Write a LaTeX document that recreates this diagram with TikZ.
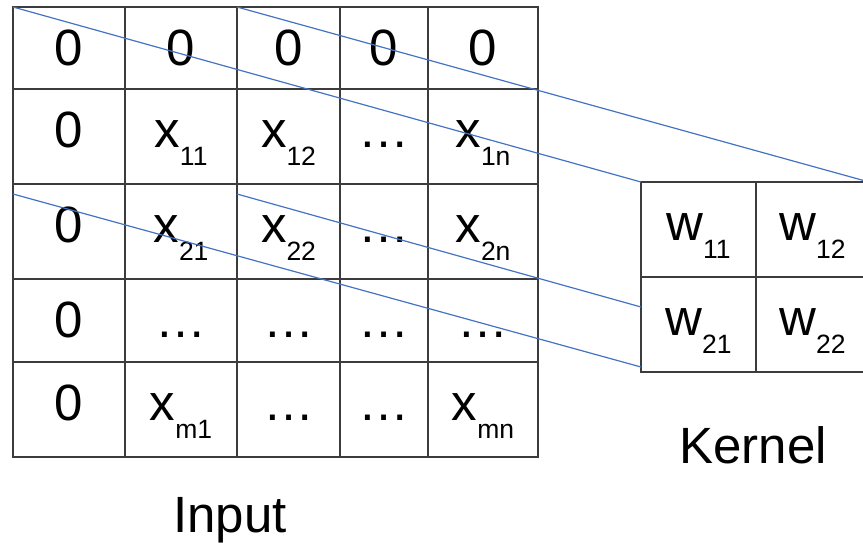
\documentclass[tikz,border=0pt]{standalone}
\usepackage{fontspec}
\setmainfont{Liberation Sans}
\usetikzlibrary{positioning}

\definecolor{gridgray}{RGB}{60,60,60}
\definecolor{linkblue}{RGB}{68,114,196}

% letter with a lowered index, e.g. \sx{x}{11}
\newcommand{\sx}[2]{#1\raisebox{-18pt}{\fontsize{26.5}{26.5}\selectfont #2}}

% cell edges
\def\colx{{13,125,237,340,428,538}}
\def\rowy{{7,89,184,279,362,457}}
\def\kcolx{{641,756,869}}
\def\krowy{{182,277,372}}

\begin{document}
\begin{tikzpicture}[x=1pt, y=-1pt,
		every node/.style={font=\fontsize{51}{51}\selectfont, inner sep=0pt, outer sep=0pt},
		cell/.style={draw=gridgray, line width=1.5pt, anchor=north west, text height=58.5pt},
		link/.style={draw=linkblue, line width=1.2pt}]
	\useasboundingbox (0,0) rectangle (863,542);

	% padded input
	\foreach \r/\entries in {
			1/{0,0,0,0,0},
			2/{0,\sx{x}{11},\sx{x}{12},\dots,\sx{x}{1n}},
			3/{0,\sx{x}{21},\sx{x}{22},\dots,\sx{x}{2n}},
			4/{0,\dots,\dots,\dots,\dots},
			5/{0,\sx{x}{m1},\dots,\dots,\sx{x}{mn}}}
		\foreach \e [count=\c] in \entries {
			\pgfmathsetmacro\cellx{\colx[\c-1]}
			\pgfmathsetmacro\cellw{\colx[\c]-\colx[\c-1]}
			\pgfmathsetmacro\celly{\rowy[\r-1]}
			\pgfmathsetmacro\celld{\rowy[\r]-\rowy[\r-1]-58.5}
			\node[cell, minimum width=\cellw pt, text depth=\celld pt] (in-\r-\c) at (\cellx,\celly) {\e};
		}

	% kernel
	\foreach \r/\entries in {
			1/{\sx{w}{11},\sx{w}{12}},
			2/{\sx{w}{21},\sx{w}{22}}}
		\foreach \e [count=\c] in \entries {
			\pgfmathsetmacro\cellx{\kcolx[\c-1]}
			\pgfmathsetmacro\cellw{\kcolx[\c]-\kcolx[\c-1]}
			\pgfmathsetmacro\celly{\krowy[\r-1]}
			\pgfmathsetmacro\celld{\krowy[\r]-\krowy[\r-1]-58.5}
			\node[cell, minimum width=\cellw pt, text depth=\celld pt] (k-\r-\c) at (\cellx,\celly) {\e};
		}

	\node[anchor=base] (input) at (230,532) {Input};
	\node[anchor=base] (kernel) at (753,463) {Kernel};

	% window edges
	\coordinate[below=10pt of in-3-1.north west] (win-a);
	\coordinate[below=10pt of in-3-3.north west] (win-b);
	\coordinate[above=65pt of k-2-1.south west] (ker-a);
	\coordinate[above=5pt of k-2-1.south west] (ker-b);

	\draw[link] (in-1-1.north west) -- (k-1-1.north west);
	\draw[link] (in-1-3.north west) -- (k-1-2.north east);
	\draw[link] (win-b) -- (ker-a);
	\draw[link] (win-a) -- (ker-b);
\end{tikzpicture}
\end{document}
